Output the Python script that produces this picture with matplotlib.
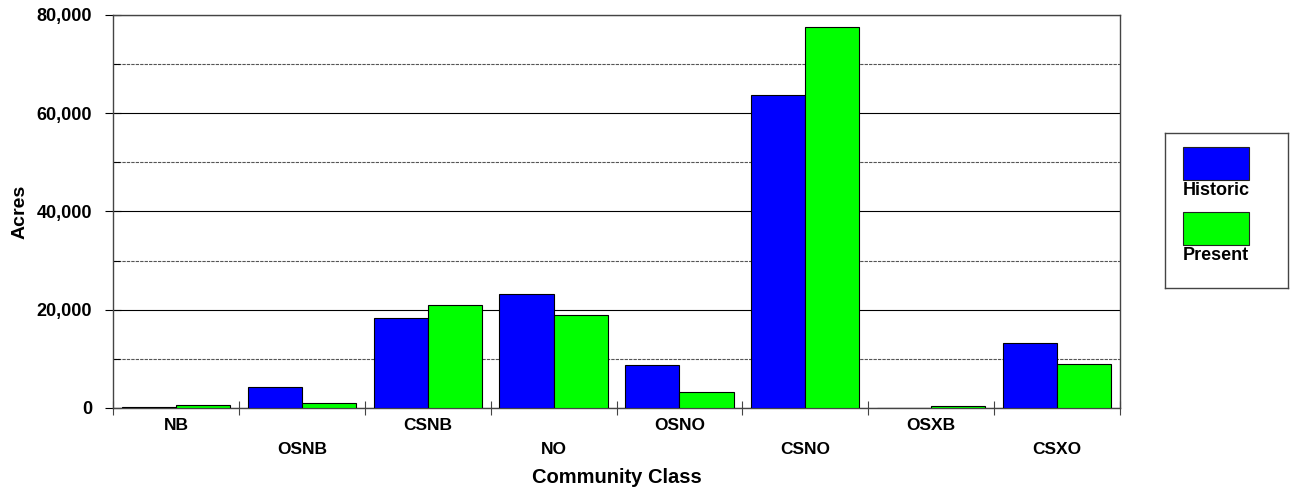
import matplotlib
matplotlib.use("Agg")
import matplotlib.pyplot as plt
import numpy as np
from matplotlib.patches import Rectangle
from matplotlib.ticker import FuncFormatter, MultipleLocator

plt.rcParams["font.family"] = ["Liberation Sans", "DejaVu Sans"]
plt.rcParams["font.weight"] = "bold"

categories = ["NB", "OSNB", "CSNB", "NO", "OSNO", "CSNO", "OSXB", "CSXO"]
historic = [300, 4200, 18400, 23200, 8800, 63800, 100, 13200]
present = [600, 1000, 20900, 19000, 3300, 77600, 500, 9000]
series_names = ["Historic", "Present"]
series_colors = ["#0000FF", "#00FF00"]

fig = plt.figure(figsize=(12.91, 4.91), dpi=100)
ax = fig.add_axes([113 / 1291, 83 / 491, 1007 / 1291, 393 / 491])

x = np.arange(len(categories))
w = 0.43
ax.bar(x - w / 2, historic, w, color=series_colors[0], edgecolor="black", linewidth=0.8, zorder=3)
ax.bar(x + w / 2, present, w, color=series_colors[1], edgecolor="black", linewidth=0.8, zorder=3)

ax.set_xlim(-0.5, len(categories) - 0.5)
ax.set_ylim(0, 80000)

# y axis: major solid grid, minor dashed grid
ax.yaxis.set_major_locator(MultipleLocator(20000))
ax.yaxis.set_minor_locator(MultipleLocator(10000))
ax.yaxis.set_major_formatter(FuncFormatter(lambda v, p: f"{int(v):,}"))
ax.grid(axis="y", which="major", color="black", linewidth=0.8, zorder=0)
ax.grid(axis="y", which="minor", color="#555555", linewidth=0.8, linestyle=(0, (3, 1)), zorder=0)
ax.tick_params(axis="y", which="major", direction="inout", length=12, width=0.8, labelsize=13, pad=9)
ax.tick_params(axis="y", which="minor", direction="in", length=5, width=0.8)

# x axis: labels at centers (alternating rows), tick marks at boundaries
ax.set_xticks(x)
ax.set_xticklabels([c if i % 2 == 0 else "\n" + c for i, c in enumerate(categories)])
for lbl in ax.get_xticklabels():
    lbl.set_linespacing(1.75)
ax.set_xticks(np.arange(len(categories) + 1) - 0.5, minor=True)
ax.tick_params(axis="x", which="major", length=0, labelsize=12.5, pad=7)
ax.tick_params(axis="x", which="minor", direction="inout", length=10, width=0.8, color="#444444")

for s in ax.spines.values():
    s.set_color("#444444")
    s.set_linewidth(1.0)

ax.set_ylabel("Acres", fontsize=14, fontweight="bold", va="center")
ax.yaxis.set_label_coords(-0.0924, 0.5)
ax.set_xlabel("Community Class", fontsize=14.5, fontweight="bold", va="center")
ax.xaxis.set_label_coords(0.5, -0.178)

# legend box with labels below swatches
lax = fig.add_axes([1165 / 1291, 203 / 491, 123 / 1291, 155 / 491])
lax.set_xlim(0, 1)
lax.set_ylim(0, 1)
lax.set_xticks([])
lax.set_yticks([])
for s in lax.spines.values():
    s.set_color("#444444")
    s.set_linewidth(1.0)
swatch_tops = [0.91, 0.49]
for top, name, col in zip(swatch_tops, series_names, series_colors):
    lax.add_patch(Rectangle((0.146, top - 0.213), 0.537, 0.213, facecolor=col,
                            edgecolor="#222222", linewidth=0.8))
    lax.text(0.146, top - 0.278, name, fontsize=13, fontweight="bold", va="center", ha="left")

fig.savefig("out.png", dpi=100)
